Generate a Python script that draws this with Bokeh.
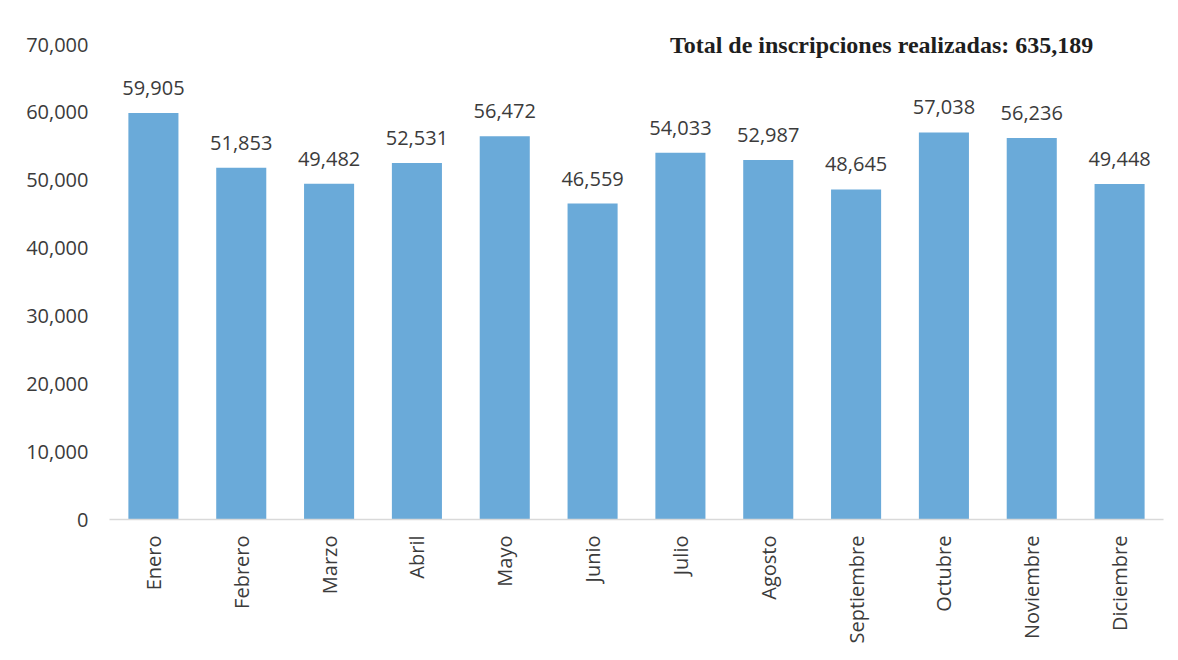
from bokeh.plotting import figure
from bokeh.models import ColumnDataSource, FixedTicker, NumeralTickFormatter, Range1d, Label, LabelSet
from bokeh.embed import file_html
from bokeh.resources import INLINE
from bokeh.core.properties import value
import math

months = ["Enero", "Febrero", "Marzo", "Abril", "Mayo", "Junio", "Julio",
          "Agosto", "Septiembre", "Octubre", "Noviembre", "Diciembre"]
inscripciones = [59905, 51853, 49482, 52531, 56472, 46559, 54033,
                 52987, 48645, 57038, 56236, 49448]
y_ticks = [0, 10000, 20000, 30000, 40000, 50000, 60000, 70000]
total_text = "Total de inscripciones realizadas: 635,189"

FONT = "Open Sans"
TXT = "#3b3b3b"

# layout (pixels)
W, H = 1170, 652
LEFT, RIGHT = 109, 1163
TOP, BOTTOM = 20, 519
AXIS_TOP_PX = 44          # where the top tick (70,000) sits
y_top_tick = y_ticks[-1]
y_end = y_top_tick * (BOTTOM - TOP) / (BOTTOM - AXIS_TOP_PX)

src = ColumnDataSource(dict(
    m=months, v=inscripciones, lbl=[f"{x:,}" for x in inscripciones]))

p = figure(x_range=months, width=W, height=H, output_backend="svg",
           toolbar_location=None, min_border_left=LEFT, min_border_right=W - RIGHT,
           min_border_top=TOP, min_border_bottom=H - BOTTOM)
p.y_range = Range1d(0, y_end)
p.x_range.range_padding = 0

p.vbar(x="m", top="v", width=0.57, source=src, color="#6aaad9", line_color=None)

labels = LabelSet(x="m", y="v", text="lbl", source=src, text_align="center",
                  text_baseline="bottom", y_offset=18, text_font=value(FONT),
                  text_font_size="20px", text_color=TXT)
p.add_layout(labels)

p.add_layout(Label(x=11.2, y=y_top_tick, text=total_text, text_align="right",
                   text_baseline="alphabetic", y_offset=0, text_font="Liberation Serif",
                   text_font_style="bold", text_font_size="24px", text_color="#1e1e1e"))

p.xgrid.visible = False
p.ygrid.visible = False
p.outline_line_color = None

p.yaxis.ticker = FixedTicker(ticks=y_ticks)
p.yaxis.formatter = NumeralTickFormatter(format="0,0")
p.yaxis.axis_line_color = None
p.yaxis.major_tick_line_color = None
p.yaxis.minor_tick_line_color = None
p.yaxis.major_label_standoff = 15
p.yaxis.major_label_text_font = FONT
p.yaxis.major_label_text_font_size = "20px"
p.yaxis.major_label_text_color = TXT

p.xaxis.axis_line_color = "#d9d9d9"
p.xaxis.axis_line_width = 1.5
p.xaxis.major_tick_line_color = None
p.xaxis.minor_tick_line_color = None
p.xaxis.major_label_orientation = math.pi / 2
p.xaxis.major_label_standoff = 10
p.xaxis.major_label_text_font = FONT
p.xaxis.major_label_text_font_size = "20px"
p.xaxis.major_label_text_color = TXT

open("out.html", "w").write(file_html(p, INLINE))
